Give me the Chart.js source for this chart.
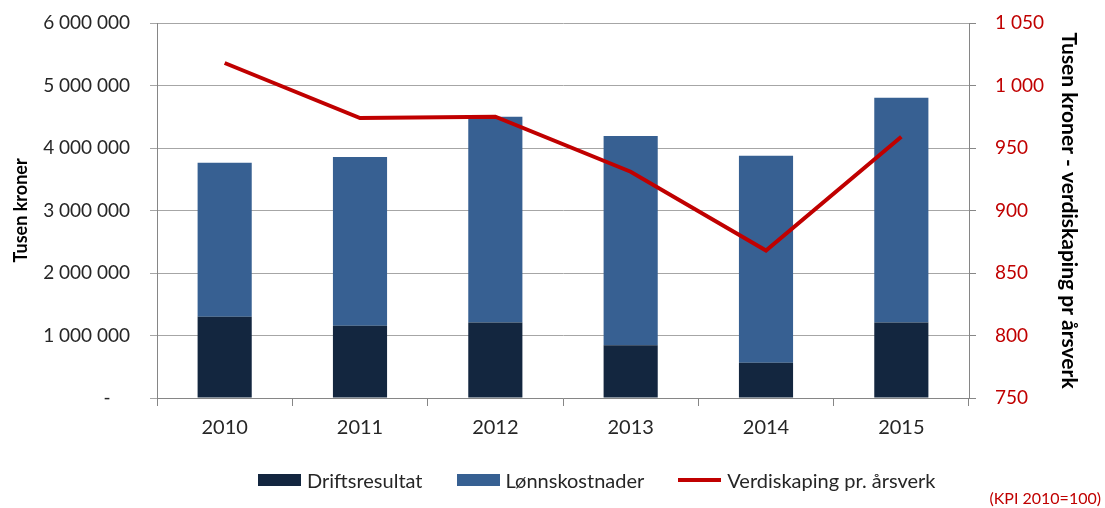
<!DOCTYPE html>
<html>
<head>
<meta charset="utf-8">
<script src="https://cdn.jsdelivr.net/npm/chart.js@4/dist/chart.umd.min.js"></script>
<style>
  body { margin: 0; background: #fff; font-family: Lato, sans-serif; }
  .wrap { position: relative; width: 1105px; height: 508px; }
  .legend { position: absolute; left: 258px; top: 468px; display: flex; gap: 34px; align-items: center; font-size: 20px; color: #262626; }
  .legend-item { display: flex; align-items: center; gap: 6px; }
  .swatch { width: 43px; height: 12px; }
  .swatch.line { height: 4px; margin: 4px 0; }
  .kpi-note { position: absolute; right: 4px; top: 488px; font-size: 16px; color: #c00000; }
</style>
</head>
<body>
<div class="wrap">
  <canvas id="myChart" width="1105" height="508"></canvas>
  <div class="legend"></div>
  <div class="kpi-note">(KPI 2010=100)</div>
</div>
<script>
// Data lest av figuren
const years = ['2010', '2011', '2012', '2013', '2014', '2015']
const driftsresultat = [1300000, 1157000, 1210000, 843000, 565000, 1210000]
const lonnskostnader = [2465000, 2700000, 3290000, 3350000, 3310000, 3595000]
const verdiskaping = [1018, 974, 975, 931, 868, 959]

const darkBlue = '#13263f'
const midBlue = '#376092'
const red = '#c00000'
const gridGray = '#a6a6a6'

// Tall med mellomrom som tusenskille
function formatNumber(v) {
    return String(v).replace(/\B(?=(\d{3})+(?!\d))/g, ' ')
}

// Fast bredde på akseboksen, uten ekstra luft over og under
function fixWidth(width) {
    return (scale) => {
        scale.width = width
        scale.paddingTop = 10
        scale.paddingBottom = 10
    }
}

const ctx = document.getElementById('myChart').getContext('2d')
new Chart(ctx, {
    type: 'bar',
    data: {
        labels: years,
        datasets: [{
            type: 'line',
            label: 'Verdiskaping pr. årsverk',
            data: verdiskaping,
            yAxisID: 'y1',
            borderColor: red,
            backgroundColor: red,
            borderWidth: 4,
            pointRadius: 0,
            tension: 0,
            order: 0
        }, {
            label: 'Driftsresultat',
            data: driftsresultat,
            backgroundColor: darkBlue,
            stack: 's',
            order: 1
        }, {
            label: 'Lønnskostnader',
            data: lonnskostnader,
            backgroundColor: midBlue,
            stack: 's',
            order: 1
        }]
    },
    options: {
        responsive: false,
        animation: false,
        layout: { padding: { top: 23, left: 0, right: 0, bottom: 0 } },
        datasets: { bar: { categoryPercentage: 1, barPercentage: 0.4 } },
        plugins: { legend: { display: false }, tooltip: { enabled: false } },
        scales: {
            x: {
                stacked: true,
                grid: { drawOnChartArea: false, color: '#868686', tickLength: 8, offset: true },
                border: { color: '#868686' },
                ticks: { color: '#262626', font: { family: 'Lato', size: 20 }, padding: 10 },
                afterFit: (scale) => { scale.height = 110 }
            },
            y: {
                stacked: true,
                min: 0,
                max: 6000000,
                ticks: {
                    stepSize: 1000000,
                    color: '#262626',
                    font: { family: 'Lato', size: 19 },
                    padding: 20,
                    callback: (v) => v === 0 ? '-    ' : formatNumber(v)
                },
                grid: { color: gridGray, tickLength: 7 },
                border: { color: '#868686' },
                title: {
                    display: true,
                    text: 'Tusen kroner',
                    color: '#000',
                    font: { family: 'Lato', size: 18, weight: 'bold' },
                    padding: { top: 10 }
                },
                afterFit: fixWidth(157)
            },
            y1: {
                position: 'right',
                min: 750,
                max: 1050,
                ticks: {
                    stepSize: 50,
                    color: red,
                    font: { family: 'Lato', size: 19 },
                    padding: 19,
                    callback: (v) => formatNumber(v)
                },
                grid: { drawOnChartArea: false, color: '#868686', tickLength: 7 },
                border: { color: '#868686' },
                title: {
                    display: true,
                    text: 'Tusen kroner - verdiskaping pr årsverk',
                    color: '#000',
                    font: { family: 'Lato', size: 21, weight: 'bold' },
                    padding: { top: 24 }
                },
                afterFit: fixWidth(136)
            }
        }
    }
})

// Forklaring under grafen
const legendItems = [
    { text: 'Driftsresultat', color: darkBlue, line: false },
    { text: 'Lønnskostnader', color: midBlue, line: false },
    { text: 'Verdiskaping pr. årsverk', color: red, line: true }
]
const legend = document.querySelector('.legend')
legendItems.forEach((item) => {
    const div = document.createElement('div')
    div.className = 'legend-item'
    const swatch = document.createElement('span')
    swatch.className = item.line ? 'swatch line' : 'swatch'
    swatch.style.background = item.color
    const label = document.createElement('span')
    label.innerHTML = item.text
    div.appendChild(swatch)
    div.appendChild(label)
    legend.appendChild(div)
})
</script>
</body>
</html>
